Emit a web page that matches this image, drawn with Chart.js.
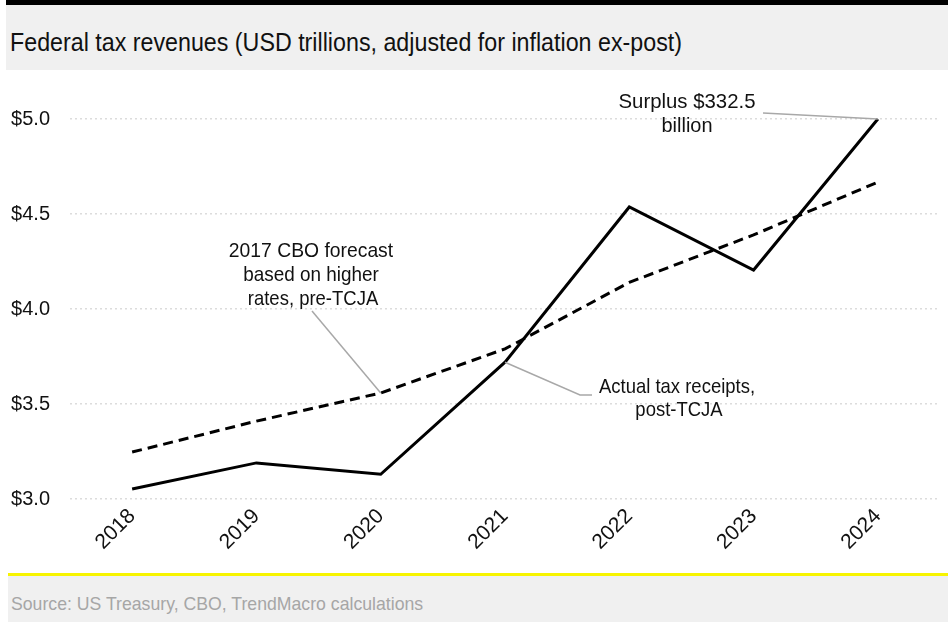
<!DOCTYPE html>
<html>
<head>
<meta charset="utf-8">
<script src="https://cdn.jsdelivr.net/npm/chart.js@4/dist/chart.umd.min.js"></script>
<style>
  html,body{margin:0;padding:0;background:#fff;width:948px;height:622px;overflow:hidden}
  #topbar{position:absolute;left:6px;top:0;width:942px;height:5px;background:#000}
  #title{position:absolute;left:6px;top:5px;width:942px;height:65px;background:#f0f0f0;
         font-family:"Liberation Sans",Arial,sans-serif;font-size:25px;color:#111}
  #title span{position:absolute;left:4px;top:25px;line-height:1;white-space:nowrap;
              transform:scaleX(0.93);transform-origin:0 0}
  #wrap{position:absolute;left:0;top:70px;width:948px;height:503px}
  #yellow{position:absolute;left:8px;top:573px;width:940px;height:3px;background:#f7f400}
  #foot{position:absolute;left:8px;top:576px;width:940px;height:46px;background:#f0f0f0;
        font-family:"Liberation Sans",Arial,sans-serif;font-size:19px;color:#a6a6a6}
  #foot span{position:absolute;left:3px;top:18px;line-height:1;white-space:nowrap;
             transform:scaleX(0.93);transform-origin:0 0}
</style>
</head>
<body>
<div id="topbar"></div>
<div id="title"><span>Federal tax revenues (USD trillions, adjusted for inflation ex-post)</span></div>
<div id="wrap"><canvas id="c" width="948" height="503"></canvas></div>
<div id="yellow"></div>
<div id="foot"><span>Source: US Treasury, CBO, TrendMacro calculations</span></div>
<script>
// data (USD trillions, inflation-adjusted)
const YEARS    = ['2018','2019','2020','2021','2022','2023','2024'];
const ACTUAL   = [3.053, 3.19, 3.13, 3.72, 4.537, 4.205, 5.0];
const FORECAST = [3.247, 3.41, 3.558, 3.79, 4.14, 4.39, 4.668];
const Y_MIN = 3.0, Y_MAX = 5.0, Y_STEP = 0.5;

const FONT = '"Liberation Sans",Arial,sans-serif';

// narrow-ish text: squeeze horizontally around its centre
function squeezeText(ctx, t, cx, cy, sx){
  ctx.save();
  ctx.translate(cx, cy); ctx.scale(sx, 1);
  ctx.fillText(t, 0, 0);
  ctx.restore();
}

/* callouts; page y minus canvas offset */
const annoPlugin = {
  id:'anno',
  afterDatasetsDraw(chart){
    const {ctx, scales:{x, y}} = chart;
    const px = i => x.getPixelForValue(i);
    const py = v => y.getPixelForValue(v);
    const off = 70;
    ctx.save();
    ctx.strokeStyle = '#a8a8a8'; ctx.lineWidth = 1.5;
    ctx.beginPath(); ctx.moveTo(312, 311-off); ctx.lineTo(px(2), py(FORECAST[2])); ctx.stroke();
    ctx.beginPath(); ctx.moveTo(px(3), py(ACTUAL[3])); ctx.lineTo(580, 395-off); ctx.lineTo(592, 395-off); ctx.stroke();
    ctx.beginPath(); ctx.moveTo(763, 113-off); ctx.lineTo(px(6), py(ACTUAL[6])); ctx.stroke();

    ctx.fillStyle = '#111'; ctx.textAlign = 'center'; ctx.textBaseline = 'alphabetic';
    ctx.font = '21px ' + FONT;
    [['2017 CBO forecast',311,257,0.92],['based on higher',311,281,0.9],['rates, pre-TCJA',313,305,0.88],
     ['Actual tax receipts,',677,393,0.88],['post-TCJA',679,416,0.88],
     ['Surplus $332.5',687,108,0.97],['billion',687,132,0.95]].forEach(([t,tx,ty,sx])=>{
      squeezeText(ctx, t, tx, ty-off, sx);
    });
    ctx.restore();
  }
};

new Chart(document.getElementById('c'),{
  type:'line',
  data:{
    labels: YEARS,
    datasets:[
      {label:'Actual tax receipts', data:ACTUAL, borderColor:'#000', borderWidth:3,
       pointRadius:0, tension:0, clip:false},
      {label:'2017 CBO forecast', data:FORECAST, borderColor:'#000', borderWidth:3,
       borderDash:[10,6], pointRadius:0, tension:0, clip:false}
    ]
  },
  options:{
    responsive:false, animation:false,
    layout:{padding:{top:49, right:8, left:0, bottom:0}},
    plugins:{legend:{display:false}, tooltip:{enabled:false}},
    scales:{
      x:{offset:true,
         grid:{display:false, drawTicks:false}, border:{display:false},
         ticks:{minRotation:45, maxRotation:45, padding:5, color:'#111',
                font:{family:FONT, size:21}},
         afterFit(s){ s.height = 74; }},
      y:{min:Y_MIN, max:Y_MAX,
         grid:{color:'#dcdcdc', lineWidth:1.5, drawTicks:false},
         border:{display:false, dash:[2,3]},
         ticks:{stepSize:Y_STEP, padding:20, color:'#111',
                font:{family:FONT, size:20},
                callback:v=>'$'+Number(v).toFixed(1)},
         afterFit(s){ s.width = 70; }}
    }
  },
  plugins:[annoPlugin]
});
</script>
</body>
</html>
